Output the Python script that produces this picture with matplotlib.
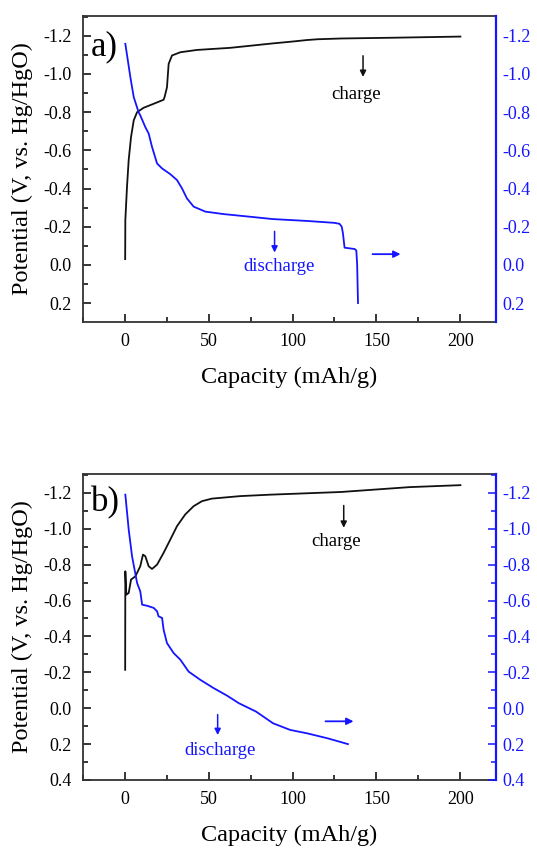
import matplotlib
matplotlib.use('Agg')
import matplotlib.pyplot as plt
from matplotlib.ticker import MultipleLocator, FormatStrFormatter

plt.rcParams['font.family'] = ['Liberation Serif', 'DejaVu Serif']

# --- panel a) data ---
cap_chg_a = [0.3, 0.4, 1.4, 2.4, 3.8, 5.4, 7.4, 11.3, 17.3, 23.2, 23.8, 25.2, 26.2, 28.2, 33.2,
             43.1, 62.9, 88, 100, 108.7, 115, 129, 160, 200]
pot_chg_a = [-0.03, -0.235, -0.41, -0.55, -0.67, -0.757, -0.80, -0.823, -0.844, -0.865, -0.88,
             -0.93, -1.053, -1.097, -1.114, -1.126, -1.137, -1.16, -1.17, -1.178, -1.182, -1.186,
             -1.19, -1.196]
cap_dis_a = [0.4, 3.4, 5.4, 8.3, 9.3, 12.3, 14.3, 16.3, 19.3, 22.3, 27.2, 31.2, 34.2, 37.1, 41.1,
             48, 58.9, 74.8, 88, 108.7, 125, 128, 129.3, 130, 131, 137, 138, 138.5, 139]
pot_dis_a = [-1.158, -0.983, -0.879, -0.8, -0.783, -0.722, -0.688, -0.618, -0.531, -0.505, -0.475,
             -0.444, -0.40, -0.348, -0.305, -0.279, -0.266, -0.252, -0.24, -0.23, -0.22, -0.215,
             -0.2, -0.167, -0.09, -0.083, -0.075, 0.0, 0.2]

# --- panel b) data ---
cap_chg_b = [0.3, 0.35, 0.4, 1.0, 2.4, 3.8, 6.4, 9.3, 10.9, 12.3, 14.3, 16.3, 19.3, 23.2, 27.2,
             31.2, 36.1, 41.1, 46.1, 52, 68.9, 86.7, 129, 169.6, 200]
pot_chg_b = [-0.214, -0.50, -0.763, -0.633, -0.642, -0.717, -0.735, -0.791, -0.856, -0.847, -0.791,
             -0.776, -0.80, -0.866, -0.94, -1.015, -1.08, -1.126, -1.154, -1.168, -1.182, -1.19,
             -1.205, -1.232, -1.243]
cap_dis_b = [0.4, 2.4, 4.4, 7.4, 9.3, 10.4, 13.3, 17.3, 19.3, 20.2, 22.3, 23.2, 25.2, 29.2, 33.2,
             38.1, 45.1, 53, 61, 68, 78.3, 88.4, 98.6, 108.7, 121, 133]
pot_dis_b = [-1.19, -0.996, -0.847, -0.698, -0.651, -0.577, -0.571, -0.559, -0.54, -0.512, -0.503,
             -0.437, -0.363, -0.307, -0.27, -0.204, -0.158, -0.112, -0.07, -0.028, 0.019, 0.084,
             0.121, 0.14, 0.168, 0.2]

blue = '#1515ff'

fig = plt.figure(figsize=(5.37, 8.48), dpi=100)


def make_panel(rect, cap_c, pot_c, cap_d, pot_d, ylo, label, right_ticks, notes):
    ax = fig.add_axes(rect)
    ax.plot(cap_c, pot_c, color='#111111', lw=1.3, solid_joinstyle='round')
    ax.set_xlim(-25, 221)
    ax.set_ylim(ylo, -1.305)
    ax.xaxis.set_major_locator(MultipleLocator(50))
    ax.xaxis.set_minor_locator(MultipleLocator(25))
    ax.yaxis.set_major_locator(MultipleLocator(0.2))
    ax.yaxis.set_minor_locator(MultipleLocator(0.1))
    ax.tick_params(which='both', direction='in', labelsize=13, top=False, right=False)
    ax.tick_params(which='major', length=6, width=1.1)
    ax.tick_params(which='minor', length=3.5, width=1.1)
    ax.tick_params(axis='x', pad=8)
    ax.tick_params(axis='y', pad=8)
    ax.yaxis.set_major_formatter(FormatStrFormatter('%.1f'))
    ax.set_xlabel('Capacity (mAh/g)', fontsize=17.5, labelpad=12)
    ax.set_ylabel('Potential (V, vs. Hg/HgO)', fontsize=17.5, labelpad=7)
    for s in ax.spines.values():
        s.set_linewidth(1.3)
        s.set_color('#333333')

    ax2 = ax.twinx()
    ax2.plot(cap_d, pot_d, color=blue, lw=1.3, solid_joinstyle='round')
    ax2.set_ylim(ylo, -1.305)
    ax2.yaxis.set_major_locator(MultipleLocator(0.2))
    ax2.yaxis.set_minor_locator(MultipleLocator(0.1))
    ax2.yaxis.set_major_formatter(FormatStrFormatter('%.1f'))
    ax2.tick_params(which='both', direction='in', colors=blue, labelsize=13, width=1.1)
    if right_ticks:
        ax2.tick_params(which='major', length=6, pad=5)
        ax2.tick_params(which='minor', length=3.5)
    else:
        ax2.tick_params(which='both', length=0, pad=5)
    ax2.spines['right'].set_color(blue)
    ax2.spines['right'].set_linewidth(1.6)
    for k in ['left', 'top', 'bottom']:
        ax2.spines[k].set_visible(False)

    ax.text(-20, notes['lab_y'], label, fontsize=25, ha='left', va='center')
    ax.annotate('', xy=(notes['chg_x'], notes['chg_y1']), xytext=(notes['chg_x'], notes['chg_y0']),
                arrowprops=dict(arrowstyle='-|>', color='#111111', lw=1.1, mutation_scale=9))
    ax.text(notes['chg_tx'], notes['chg_ty'], 'charge', fontsize=13.5, ha='center', va='center')
    ax.annotate('', xy=(notes['dis_x'], notes['dis_y1']), xytext=(notes['dis_x'], notes['dis_y0']),
                arrowprops=dict(arrowstyle='-|>', color=blue, lw=1.1, mutation_scale=9))
    ax.text(notes['dis_tx'], notes['dis_ty'], 'discharge', fontsize=13.5, ha='center', va='center',
            color=blue)
    ax.annotate('', xy=(notes['r_x1'], notes['r_y']), xytext=(notes['r_x0'], notes['r_y']),
                arrowprops=dict(arrowstyle='-|>', color=blue, lw=1.3, mutation_scale=10))
    return ax, ax2


notes_a = dict(lab_y=-1.14, chg_x=142, chg_y0=-1.11, chg_y1=-0.97, chg_tx=138, chg_ty=-0.895,
               dis_x=89.3, dis_y0=-0.19, dis_y1=-0.05, dis_tx=92, dis_ty=0.01,
               r_x0=146, r_x1=166, r_y=-0.056)
notes_b = dict(lab_y=-1.145, chg_x=130.5, chg_y0=-1.145, chg_y1=-0.99, chg_tx=126, chg_ty=-0.93,
               dis_x=55.4, dis_y0=0.02, dis_y1=0.165, dis_tx=57, dis_ty=0.234,
               r_x0=118, r_x1=138, r_y=0.073)

make_panel([0.154, 0.6206, 0.769, 0.3608], cap_chg_a, pot_chg_a, cap_dis_a, pot_dis_a, 0.298, 'a)',
           False, notes_a)
make_panel([0.154, 0.0802, 0.769, 0.3608], cap_chg_b, pot_chg_b, cap_dis_b, pot_dis_b, 0.4, 'b)',
           True, notes_b)

fig.savefig('out.png', dpi=100)
